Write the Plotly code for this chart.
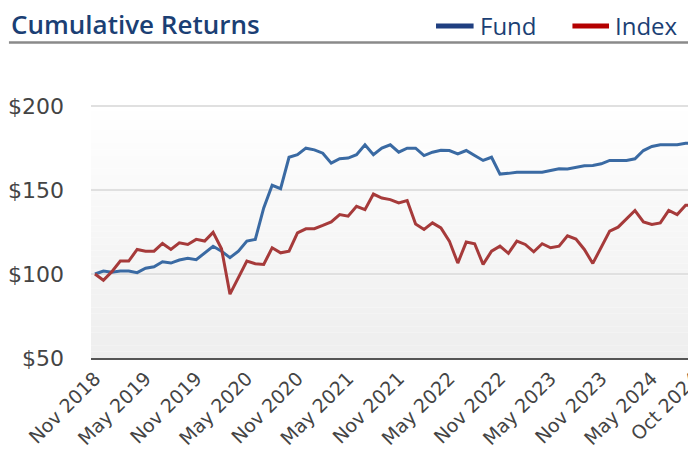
import pandas as pd
import plotly.graph_objects as go

# ---- data -------------------------------------------------------------
months = pd.date_range("2018-11-01", "2024-10-01", freq="MS").strftime("%b %Y").tolist()

fund = [100, 101.8, 101.0, 101.8, 101.8, 100.8, 103.4, 104.3, 107.3, 106.5,
        108.3, 109.3, 108.5, 112.6, 116.5, 113.6, 109.7, 113.6, 119.6, 120.6,
        139.3, 152.8, 150.8, 169.5, 171.0, 174.9, 173.9, 171.9, 166.0, 168.6,
        169.0, 171.0, 176.9, 171.0, 174.9, 176.9, 172.5, 174.9, 174.9, 170.5,
        172.5, 173.7, 173.5, 171.5, 173.5, 170.5, 167.6, 169.5, 159.5, 159.9,
        160.6, 160.6, 160.6, 160.6, 161.6, 162.6, 162.5, 163.5, 164.4, 164.6,
        165.6, 167.6, 167.6, 167.6, 168.6, 173.5, 175.9, 176.9, 176.9, 176.9,
        177.8, 178.0]

index = [100, 96.3, 101.4, 107.7, 107.7, 114.6, 113.6, 113.6, 118.2, 114.6,
         118.6, 117.6, 120.6, 119.6, 124.8, 115.0, 88.0, 97.8, 107.7, 106.1,
         105.7, 115.6, 112.6, 113.6, 124.5, 126.9, 127.0, 128.9, 131.0, 135.4,
         134.4, 140.3, 138.3, 147.6, 145.2, 144.3, 142.3, 143.7, 129.8, 126.5,
         130.4, 127.4, 119.6, 106.5, 119.0, 118.0, 105.7, 113.6, 116.6, 112.3,
         119.6, 117.6, 113.2, 118.0, 115.6, 116.6, 122.7, 120.8, 114.6, 106.3,
         115.6, 125.5, 127.9, 133.0, 137.8, 131.0, 129.5, 130.4, 137.9, 135.4,
         140.9, 141.0]

tick_labels = ["Nov 2018", "May 2019", "Nov 2019", "May 2020", "Nov 2020",
               "May 2021", "Nov 2021", "May 2022", "Nov 2022", "May 2023",
               "Nov 2023", "May 2024", "Oct 2024"]
y_ticks = [50, 100, 150, 200]
y_tick_text = ["$50", "$100", "$150", "$200"]

# ---- layout geometry (figure pixels; page body adds an 8px offset) ----
W, H = 696, 464
L, R, T, B = 83, 0, 97, 114
PW, PH = W - L - R, H - T - B
OFF = 8  # default page body margin


def px(sx):
    """screen x -> paper x"""
    return (sx - OFF - L) / PW


def py(sy):
    """screen y -> paper y"""
    return (H - B - (sy - OFF)) / PH


fund_color = "#3a6aa3"
index_color = "#a63a3a"
navy = "#1b3f74"

fig = go.Figure()
fig.add_trace(go.Scatter(x=months, y=fund, mode="lines", name="Fund",
                         line=dict(color=fund_color, width=3), showlegend=False))
fig.add_trace(go.Scatter(x=months, y=index, mode="lines", name="Index",
                         line=dict(color=index_color, width=3), showlegend=False))

shapes = []
# vertical background gradient (white at top -> light gray at bottom)
n_bands = 40
for k in range(n_bands):
    v = round(255 - (255 - 238) * (k + 0.5) / n_bands)
    shapes.append(dict(type="rect", xref="x domain", yref="y domain",
                       x0=0, x1=1, y0=1 - (k + 1) / n_bands, y1=1 - k / n_bands,
                       fillcolor=f"rgb({v},{v},{v})", line=dict(width=0),
                       layer="below"))
# title underline
shapes.append(dict(type="line", xref="paper", yref="paper",
                   x0=px(8), x1=1, y0=py(42.5), y1=py(42.5),
                   line=dict(color="#8a8a8a", width=2.5)))
# legend swatches
shapes.append(dict(type="line", xref="paper", yref="paper",
                   x0=px(440), x1=px(478), y0=py(26), y1=py(26),
                   line=dict(color="#1f3f80", width=5)))
shapes.append(dict(type="line", xref="paper", yref="paper",
                   x0=px(578), x1=px(615), y0=py(26), y1=py(26),
                   line=dict(color="#b40000", width=5)))

annotations = [
    dict(text="Cumulative Returns", xref="paper", yref="paper",
         x=px(8), y=py(24), xanchor="left", yanchor="middle", showarrow=False,
         font=dict(family="Open Sans", size=26, color=navy, weight=600)),
    dict(text="Fund", xref="paper", yref="paper",
         x=px(482), y=py(25), xanchor="left", yanchor="middle", showarrow=False,
         font=dict(family="Open Sans", size=24, color=navy)),
    dict(text="Index", xref="paper", yref="paper",
         x=px(619), y=py(25), xanchor="left", yanchor="middle", showarrow=False,
         font=dict(family="Open Sans", size=24, color=navy)),
]

fig.update_layout(
    width=W, height=H, autosize=False,
    margin=dict(l=L, r=R, t=T, b=B, pad=0),
    paper_bgcolor="white", plot_bgcolor="rgba(0,0,0,0)",
    shapes=shapes, annotations=annotations, showlegend=False,
)
fig.update_xaxes(
    type="category", range=[-0.47, len(months) - 1 + 0.35],
    tickmode="array", tickvals=tick_labels, ticktext=tick_labels,
    tickangle=-45, tickfont=dict(family="DejaVu Sans", size=19, color="#444444"),
    showgrid=False, showline=True, linecolor="#555555", linewidth=2,
    ticks="", ticklabelstandoff=0, zeroline=False, fixedrange=True,
)
fig.update_yaxes(
    range=[50, 200.6], tickmode="array", tickvals=y_ticks, ticktext=y_tick_text,
    tickfont=dict(family="DejaVu Sans", size=22, color="#444444"),
    showgrid=True, gridcolor="#e0e0e0", gridwidth=2, zeroline=False,
    showline=False, ticks="", ticklabelstandoff=26, fixedrange=True,
)

fig.write_html("out.html", config={"displayModeBar": False})
